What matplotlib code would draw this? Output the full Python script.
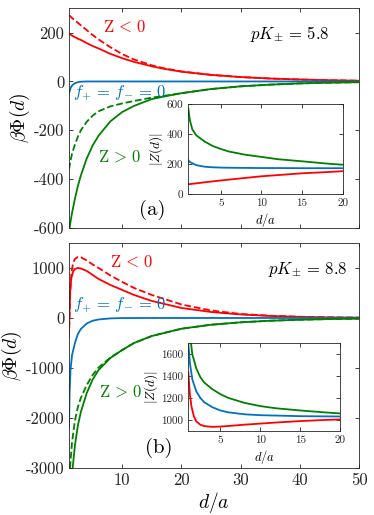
import matplotlib
matplotlib.use("Agg")
import matplotlib.pyplot as plt

plt.rcParams["font.family"] = ["cmr10", "DejaVu Serif"]
plt.rcParams["mathtext.fontset"] = "cm"
plt.rcParams["axes.unicode_minus"] = False
plt.rcParams["axes.formatter.use_mathtext"] = False

RED = "#ff0000"
GREEN = "#008000"
BLUE = "#0072bd"

# ---- panel (a), pK = 5.8 ----
d_a = [1, 1.25, 1.5, 2, 2.5, 3, 4, 5, 6, 8, 10, 12, 15, 17, 20, 25, 30, 35, 40, 45, 50]
red_a = [196, 192, 188, 181, 175, 170, 157, 145, 135, 113, 95, 80, 62, 52, 40, 27, 18, 12, 8, 5, 3]
red_a_dash = [272, 266, 260, 250, 240, 230, 210, 190, 172, 140, 112, 90, 66, 54, 41, 27, 18, 12, 8, 5, 3]
blue_a = [-48, -28, -17, -7, -3, -1, 0, 0, 0, 0, 0, 0, 0, 0, 0, 0, 0, 0, 0, 0, 0]
d_a_green = [1.1, 1.25, 1.5, 2, 2.5, 3, 4, 5, 6, 8, 10, 12, 15, 17, 20, 25, 30, 35, 40, 45, 50]
green_a = [-600, -575, -540, -480, -428, -385, -315, -262, -222, -163, -125, -100, -72, -62, -48, -31, -20, -13, -8, -5, -3]
d_a_gdash = [1, 1.25, 1.5, 2, 2.5, 3, 4, 5, 6, 8, 10, 12, 15, 17, 20, 25, 30, 35, 40, 45, 50]
green_a_dash = [-360, -325, -297, -258, -226, -200, -165, -140, -122, -102, -90, -80, -66, -59, -48, -31, -20, -13, -8, -5, -3]

# inset (a): |Z(d)|
di_a = [1, 1.2, 1.5, 2, 3, 4, 5, 6, 8, 10, 12, 15, 18, 20]
zg_a = [570, 490, 430, 390, 350, 320, 300, 283, 262, 247, 232, 218, 203, 195]
zb_a = [225, 213, 205, 192, 182, 178, 176, 175, 174, 173, 173, 172, 172, 172]
zr_a = [65, 66, 68, 71, 78, 84, 90, 96, 107, 118, 126, 138, 146, 152]

# ---- panel (b), pK = 8.8 ----
d_b = [1, 1.1, 1.2, 1.4, 1.7, 2, 2.5, 3, 4, 5, 6, 8, 10, 12, 15, 20, 25, 30, 35, 40, 45, 50]
red_b = [-300, 200, 550, 800, 930, 980, 1000, 990, 940, 860, 780, 660, 560, 460, 340, 200, 120, 70, 40, 22, 12, 7]
red_b_dash = [-400, 100, 500, 900, 1100, 1180, 1220, 1215, 1150, 1070, 1000, 850, 720, 600, 460, 270, 150, 80, 45, 25, 13, 8]
d_b_blue = [1, 1.1, 1.25, 1.5, 2, 2.5, 3, 4, 5, 6, 8, 10, 15, 20, 30, 40, 50]
blue_b = [-2200, -1500, -1050, -750, -500, -320, -220, -110, -55, -30, -8, -2, 0, 0, 0, 0, 0]
d_b_green = [1.62, 2, 2.5, 3, 4, 5, 6, 8, 10, 12, 15, 20, 25, 30, 35, 40, 45, 50]
green_b = [-3000, -2550, -2150, -1880, -1500, -1230, -1040, -800, -640, -500, -360, -215, -135, -87, -55, -35, -22, -14]
d_b_gdash = [1.17, 1.5, 2, 2.5, 3, 4, 5, 6, 8, 10, 12, 15, 20, 25, 30, 35, 40, 45, 50]
green_b_dash = [-3000, -2500, -2050, -1780, -1600, -1340, -1140, -990, -790, -640, -500, -360, -215, -135, -87, -55, -35, -22, -14]

# inset (b)
dg_ib = [1.34, 1.5, 2, 2.5, 3, 4, 5, 6, 8, 10, 12, 15, 18, 20]
zg_b = [1700, 1600, 1470, 1390, 1340, 1280, 1235, 1200, 1155, 1125, 1105, 1085, 1068, 1058]
db_ib = [1, 1.2, 1.5, 2, 2.5, 3, 4, 5, 6, 8, 10, 15, 20]
zb_b = [1700, 1520, 1370, 1260, 1200, 1160, 1115, 1085, 1068, 1050, 1042, 1033, 1030]
dr_ib = [1, 1.2, 1.4, 1.7, 2, 2.5, 3, 4, 5, 6, 8, 10, 12, 15, 18, 20]
zr_b = [1440, 1230, 1120, 1030, 985, 955, 942, 935, 938, 943, 955, 965, 975, 988, 998, 1003]

lab_neg = r"$\mathrm{Z}\,<\,0$"
lab_pos = r"$\mathrm{Z}\,>\,0$"
lab_zero = r"$f_{+}\,=\,f_{-}\,=\,0$"


def style_axes(ax, labelsize):
    ax.tick_params(direction="in", top=True, right=True, labelsize=labelsize,
                   colors="#262626", length=3, width=0.6)
    for s in ax.spines.values():
        s.set_color("#262626")
        s.set_linewidth(0.6)


lw = 1.3
fs_txt = 12
fig = plt.figure(figsize=(3.74, 5.15), dpi=100)

# top panel
ax1 = fig.add_axes([0.1845, 0.5573, 0.7754, 0.4268])
ax1.plot(d_a, red_a, color=RED, lw=lw)
ax1.plot(d_a, red_a_dash, color=RED, lw=lw, ls="--")
ax1.plot(d_a, blue_a, color=BLUE, lw=lw)
ax1.plot(d_a_green, green_a, color=GREEN, lw=lw)
ax1.plot(d_a_gdash, green_a_dash, color=GREEN, lw=lw, ls="--")
ax1.set_xlim(1, 50)
ax1.set_ylim(-600, 300)
ax1.set_xticks([10, 20, 30, 40, 50])
ax1.set_xticklabels([])
ax1.set_yticks([-600, -400, -200, 0, 200])
ax1.set_ylabel(r"$\beta\Phi(d)$", fontsize=14, labelpad=1)
style_axes(ax1, 12)
ax1.text(6.7, 222, lab_neg, color=RED, fontsize=fs_txt, va="center")
ax1.text(31.6, 193, r"$pK_{\pm}\,=\,5.8$", color="k", fontsize=fs_txt, va="center")
ax1.text(1.6, -47, lab_zero, color=BLUE, fontsize=fs_txt, va="center")
ax1.text(5.9, -308, lab_pos, color=GREEN, fontsize=fs_txt, va="center")
ax1.text(12.8, -528, "(a)", color="k", fontsize=15, va="center")

# bottom panel
ax2 = fig.add_axes([0.1845, 0.0913, 0.7754, 0.4369])
ax2.plot(d_b, red_b, color=RED, lw=lw)
ax2.plot(d_b, red_b_dash, color=RED, lw=lw, ls="--")
ax2.plot(d_b_blue, blue_b, color=BLUE, lw=lw)
ax2.plot(d_b_green, green_b, color=GREEN, lw=lw)
ax2.plot(d_b_gdash, green_b_dash, color=GREEN, lw=lw, ls="--")
ax2.set_xlim(1, 50)
ax2.set_ylim(-3000, 1500)
ax2.set_xticks([10, 20, 30, 40, 50])
ax2.set_yticks([-3000, -2000, -1000, 0, 1000])
ax2.set_ylabel(r"$\beta\Phi(d)$", fontsize=14, labelpad=1)
ax2.set_xlabel(r"$d/a$", fontsize=14, labelpad=1)
style_axes(ax2, 12)
ax2.text(7.9, 1117, lab_neg, color=RED, fontsize=fs_txt, va="center")
ax2.text(34.6, 979, r"$pK_{\pm}\,=\,8.8$", color="k", fontsize=fs_txt, va="center")
ax2.text(1.6, 264, lab_zero, color=BLUE, fontsize=fs_txt, va="center")
ax2.text(6.0, -1480, lab_pos, color=GREEN, fontsize=fs_txt, va="center")
ax2.text(13.8, -2594, "(b)", color="k", fontsize=15, va="center")

# inset a
ia = fig.add_axes([0.5035, 0.6233, 0.4128, 0.1748])
ia.plot(di_a, zg_a, color=GREEN, lw=lw)
ia.plot(di_a, zb_a, color=BLUE, lw=lw)
ia.plot(di_a, zr_a, color=RED, lw=lw)
ia.set_xlim(1, 20)
ia.set_ylim(0, 600)
ia.set_xticks([5, 10, 15, 20])
ia.set_yticks([0, 200, 400, 600])
ia.set_xlabel(r"$d/a$", fontsize=9, labelpad=2)
ia.set_ylabel(r"$|Z(d)|$", fontsize=9.5, labelpad=1)
style_axes(ia, 8)

# inset b
ib = fig.add_axes([0.5035, 0.1637, 0.4064, 0.1697])
ib.plot(dg_ib, zg_b, color=GREEN, lw=lw)
ib.plot(db_ib, zb_b, color=BLUE, lw=lw)
ib.plot(dr_ib, zr_b, color=RED, lw=lw)
ib.set_xlim(1, 20)
ib.set_ylim(900, 1700)
ib.set_xticks([5, 10, 15, 20])
ib.set_yticks([1000, 1200, 1400, 1600])
ib.set_xlabel(r"$d/a$", fontsize=9, labelpad=2)
ib.set_ylabel(r"$|Z(d)|$", fontsize=9.5, labelpad=1)
style_axes(ib, 8)

fig.savefig("out.png", dpi=100)
